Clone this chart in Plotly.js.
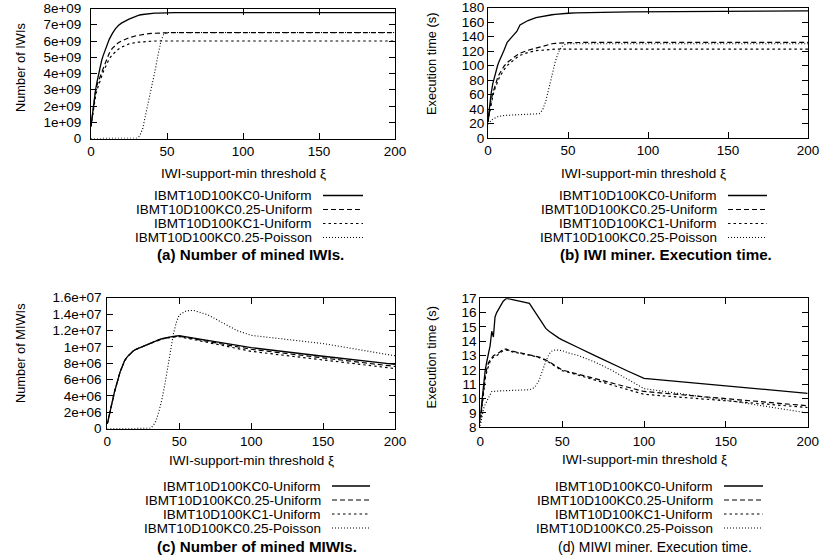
<!DOCTYPE html>
<html><head><meta charset="utf-8">
<script src="https://cdn.plot.ly/plotly-3.0.1.min.js"></script>
<style>html,body{margin:0;padding:0;background:#fff}#chart{width:822px;height:560px}</style>
</head><body><div id="chart"></div>
<script>
// ---------- data ----------
const xs = [0,1,2,3,4,5,6,7,8,9,10,12,14,16,18,20,25,30,32,34,36,38,40,42,44,46,48,50,55,60,70,80,90,100,150,200];
const seriesNames = ['IBMT10D100KC0-Uniform','IBMT10D100KC0.25-Uniform','IBMT10D100KC1-Uniform','IBMT10D100KC0.25-Poisson'];

// (a) Number of IWIs, in units of 1e9
const iwiScale = 1e9;
const iwiKC0  = [0.75,1.6,2.4,3.0,3.5,4.0,4.5,4.8,5.1,5.35,5.6, 6.1,6.45,6.75,6.95,7.1, 7.35,7.55, 7.6,7.63,7.66,7.68,7.7,7.71,7.72,7.73,7.74,7.75, 7.75,7.75,7.75,7.75,7.75,7.75, 7.75,7.75];
const iwiKC025 = [0.75,1.5,2.3,2.9,3.3,3.6,3.85,4.05,4.3,4.55,4.8, 5.25,5.55,5.75,5.9,6.0, 6.2,6.33, 6.37,6.4,6.43,6.45,6.47,6.48,6.49,6.5,6.51,6.52, 6.52,6.52,6.52,6.52,6.52,6.52, 6.52,6.52];
const iwiKC1  = [0.75,1.4,2.1,2.6,3.0,3.3,3.6,3.85,4.1,4.3,4.5, 4.9,5.15,5.35,5.5,5.62, 5.82,5.92, 5.94,5.96,5.97,5.98,5.99,6.0,6.0,6.0,6.0,6.0, 6.0,6.0,6.0,6.0,6.0,6.0, 6.0,6.0];
const iwiPoi  = [0,0,0,0,0,0,0,0,0,0,0, 0,0,0,0,0, 0,0.02, 0.15,0.6,1.5,2.3,3.1,4.1,5.1,6.0,6.45,6.52, 6.52,6.52,6.52,6.52,6.52,6.52, 6.52,6.52];

// (b) IWI miner execution time (s)
const iwiTimeKC0  = [25,45,62,75,84,92,100,106,112,116,121, 132,137,142,147,156, 162,166, 167,167.8,168.5,169.2,170,170.5,171,171.4,171.8,172.1, 172.6,173,173.4,173.7,174,174.2, 174.8,175.3];
const iwiTimeKC025 = [22,38,52,62,70,77,83,88,92,96,99, 104,108,111,114,117, 121,124, 125.5,127,128.3,129.3,130,130.5,131,131.2,131.4,131.5, 131.7,132,132,132,132,132, 132,131.8];
const iwiTimeKC1  = [22,36,48,58,66,72,78,83,87,91,94, 100,104,108,111,114, 118,120.5, 121,121.5,122,122.2,122.4,122.5,122.5,122.5,122.5,122.5, 122.5,122.5,122.5,122.5,122.5,122.5, 122.5,122.5];
const iwiTimePoi  = [19,22,24,26,27.5,28.5,29.3,30,30.5,30.8,31, 31.3,31.5,31.6,31.7,31.8, 32,32.5, 33.5,38,50,68,88,105,118,126,129,130, 130,130,130,130,130,130, 130,130];

// (c) Number of MIWIs, in units of 1e6
const miwiScale = 1e6;
const miwiKC0  = [0.6,1.3,2.1,2.9,3.7,4.5,5.2,5.9,6.5,7.0,7.4, 8.3,8.8,9.2,9.5,9.7, 10.1,10.45, 10.6,10.75,10.88,11.0,11.1,11.16,11.22,11.28,11.33,11.36, 11.22,11.07,10.78,10.49,10.19,9.9, 8.85,7.85];
const miwiKC025 = [0.6,1.3,2.1,2.9,3.7,4.5,5.2,5.9,6.5,7.0,7.4, 8.3,8.8,9.2,9.5,9.7, 10.1,10.45, 10.58,10.72,10.85,10.97,11.06,11.13,11.19,11.24,11.27,11.3, 11.14,10.98,10.66,10.34,10.02,9.7, 8.65,7.6];
const miwiKC1  = [0.6,1.3,2.1,2.9,3.7,4.5,5.2,5.9,6.5,7.0,7.4, 8.3,8.8,9.2,9.5,9.7, 10.1,10.43, 10.56,10.7,10.83,10.95,11.04,11.1,11.15,11.2,11.23,11.25, 11.07,10.89,10.53,10.17,9.81,9.45, 8.4,7.35];
const miwiPoi  = [0,0,0,0,0,0,0,0,0,0,0, 0,0,0,0,0, 0,0.05, 0.4,1.0,2.2,3.6,5.4,7.6,9.8,11.6,13.0,13.9, 14.4,14.45,13.9,13.0,12.0,11.4, 10.4,8.9];

// (d) MIWI miner execution time (s)
const miwiTimeKC0  = [8.7,9.8,11.2,12.0,12.6,13.1,13.7,14.7,14.3,15.7,16.0, 16.4,16.8,17.0,16.95,16.9, 16.75,16.65, 16.3,15.95,15.6,15.25,14.9,14.7,14.52,14.36,14.22,14.1, 13.8,13.55,13.0,12.45,11.93,11.42, 10.9,10.37];
const miwiTimeKC025 = [8.5,9.6,10.9,11.6,12.1,12.5,12.7,12.9,13.0,13.05,13.1, 13.25,13.45,13.45,13.35,13.3, 13.2,13.1, 13.05,12.98,12.9,12.82,12.72,12.58,12.43,12.28,12.14,12.0, 11.85,11.7,11.4,11.1,10.8,10.5, 10.0,9.5];
const miwiTimeKC1  = [8.3,9.4,10.6,11.4,11.9,12.3,12.6,12.8,12.9,12.95,13.0, 13.15,13.35,13.4,13.3,13.25, 13.15,13.05, 13.0,12.93,12.85,12.77,12.68,12.53,12.38,12.23,12.08,11.95, 11.8,11.63,11.3,10.97,10.63,10.3, 9.85,9.38];
const miwiTimePoi  = [8.1,8.8,9.3,9.6,9.85,10.1,10.35,10.5,10.5,10.52,10.53, 10.54,10.55,10.56,10.57,10.58, 10.6,10.62, 10.7,10.9,11.3,12.0,12.6,13.1,13.35,13.4,13.38,13.35, 13.15,13.0,12.55,12.0,11.35,10.7, 9.9,9.0];

// tick labels
const xTickVals = [0,50,100,150,200];
const yTickValsA = [0,1e9,2e9,3e9,4e9,5e9,6e9,7e9,8e9];
const yTickTextA = ['0','1e+09','2e+09','3e+09','4e+09','5e+09','6e+09','7e+09','8e+09'];
const yTickValsB = [0,20,40,60,80,100,120,140,160,180];
const yTickValsC = [0,2e6,4e6,6e6,8e6,1e7,1.2e7,1.4e7,1.6e7];
const yTickTextC = ['0','2e+06','4e+06','6e+06','8e+06','1e+07','1.2e+07','1.4e+07','1.6e+07'];
const yTickValsD = [8,9,10,11,12,13,14,15,16,17];

const xTitle = 'IWI-support-min threshold ξ';
const yTitles = ['Number of IWIs','Execution time (s)','Number of MIWIs','Execution time (s)'];
const captions = ['(a) Number of mined IWIs.','(b) IWI miner. Execution time.','(c) Number of mined MIWIs.','(d) MIWI miner. Execution time.'];

// ---------- styling ----------
const W = 822, H = 560;
const px = v => v / W;
const py = v => 1 - v / H;
const FONT = 'Liberation Sans, Arial, Helvetica, sans-serif';
const dashes = ['solid','5px,3px','2.5px,3px','1px,2px'];
const widths = [1.3,1.2,1.2,1.1];

const panels = [
  {xa:'x', ya:'y', data:[iwiKC0,iwiKC025,iwiKC1,iwiPoi], scale:iwiScale},
  {xa:'x2', ya:'y2', data:[iwiTimeKC0,iwiTimeKC025,iwiTimeKC1,iwiTimePoi], scale:1},
  {xa:'x3', ya:'y3', data:[miwiKC0,miwiKC025,miwiKC1,miwiPoi], scale:miwiScale},
  {xa:'x4', ya:'y4', data:[miwiTimeKC0,miwiTimeKC025,miwiTimeKC1,miwiTimePoi], scale:1}
];

const traces = [];
panels.forEach(p => {
  p.data.forEach((arr, i) => {
    traces.push({
      type:'scatter', mode:'lines', name:seriesNames[i],
      x: xs, y: arr.map(v => v * p.scale),
      xaxis:p.xa, yaxis:p.ya,
      line:{color:'#000', width:widths[i], dash:dashes[i]},
      showlegend:false, hoverinfo:'x+y+name'
    });
  });
});

const axBase = {
  showline:true, linecolor:'#000', linewidth:1, mirror:'allticks',
  ticks:'inside', ticklen:6, tickwidth:1, tickcolor:'#000',
  showgrid:false, zeroline:false, fixedrange:true,
  tickfont:{family:FONT, size:13.5, color:'#000'}
};
const xAx = (dom, anchor, so) => Object.assign({}, axBase, {domain:dom, anchor:anchor, range:[0,200], tickvals:xTickVals, ticktext:xTickVals.map(String), ticklabelstandoff:so});
const yAx = (dom, anchor, range, vals, text, so) => Object.assign({}, axBase, {domain:dom, anchor:anchor, range:range, tickvals:vals, ticktext:text, ticklabelstandoff:so});

const layout = {
  width:W, height:H,
  margin:{l:0,r:0,t:0,b:0},
  paper_bgcolor:'#fff', plot_bgcolor:'#fff',
  showlegend:false,
  font:{family:FONT, size:13.5, color:'#000'},
  xaxis: xAx([px(91),px(395)],'y',2.5),
  yaxis: yAx([py(138.5),py(8.5)],'x',[0,8e9],yTickValsA,yTickTextA,6),
  xaxis2: xAx([px(488),px(808)],'y2',2.5),
  yaxis2: yAx([py(138),py(7.5)],'x2',[0,180],yTickValsB,yTickValsB.map(String),3.5),
  xaxis3: xAx([px(107.3),px(395)],'y3',0.5),
  yaxis3: yAx([py(428.7),py(297.7)],'x3',[0,1.6e7],yTickValsC,yTickTextC,2),
  xaxis4: xAx([px(480.3),px(807.7)],'y4',1),
  yaxis4: yAx([py(427.3),py(298.3)],'x4',[8,17],yTickValsD,yTickValsD.map(String),5.5),
  annotations:[], shapes:[]
};

const ann = (text, x, y, opts) => Object.assign({
  text:text, x:px(x), y:py(y), xref:'paper', yref:'paper', showarrow:false,
  xanchor:'center', yanchor:'middle', borderpad:0, font:{family:FONT, size:13.5, color:'#000'}
}, opts || {});

// axis titles
const xTitlePos = [[243,173],[643.5,173],[251.7,460.5],[644,459.5]];
const yTitlePos = [[20,68],[431,64],[20,353],[431,357.5]];
xTitlePos.forEach(p => layout.annotations.push(ann(xTitle, p[0], p[1])));
yTitlePos.forEach((p,i) => layout.annotations.push(ann(yTitles[i], p[0], p[1], {textangle:-90, font:{family:FONT,size:12.8,color:'#000'}})));

// legends (text right-aligned, sample line on right)
const legendGeo = [
  {right:313, x0:323, x1:363, rows:[195.5,209.5,223.5,237.5]},
  {right:718, x0:728, x1:767, rows:[195.5,209.5,223.5,237.5]},
  {right:322, x0:332, x1:370, rows:[486,500,514,528]},
  {right:714, x0:724, x1:763, rows:[486,500,514,528]}
];
legendGeo.forEach(g => {
  g.rows.forEach((ry, i) => {
    layout.annotations.push(ann(seriesNames[i], g.right, ry, {xanchor:'right'}));
    layout.shapes.push({type:'line', xref:'paper', yref:'paper', x0:px(g.x0), x1:px(g.x1), y0:py(ry), y1:py(ry),
      line:{color:'#000', width:widths[i], dash:dashes[i]}});
  });
});

// captions
const capPos = [[250,254.5,true,15.2],[666,254.5,true,15.2],[257,546.5,true,15.2],[655,546.5,false,13.9]];
capPos.forEach((p,i) => layout.annotations.push(ann(captions[i], p[0], p[1], {
  font:{family:FONT, size:p[3], color:'#000', weight: p[2] ? 'bold' : 'normal'}
})));

Plotly.newPlot('chart', traces, layout, {displayModeBar:false, staticPlot:true});
</script>
</body></html>
